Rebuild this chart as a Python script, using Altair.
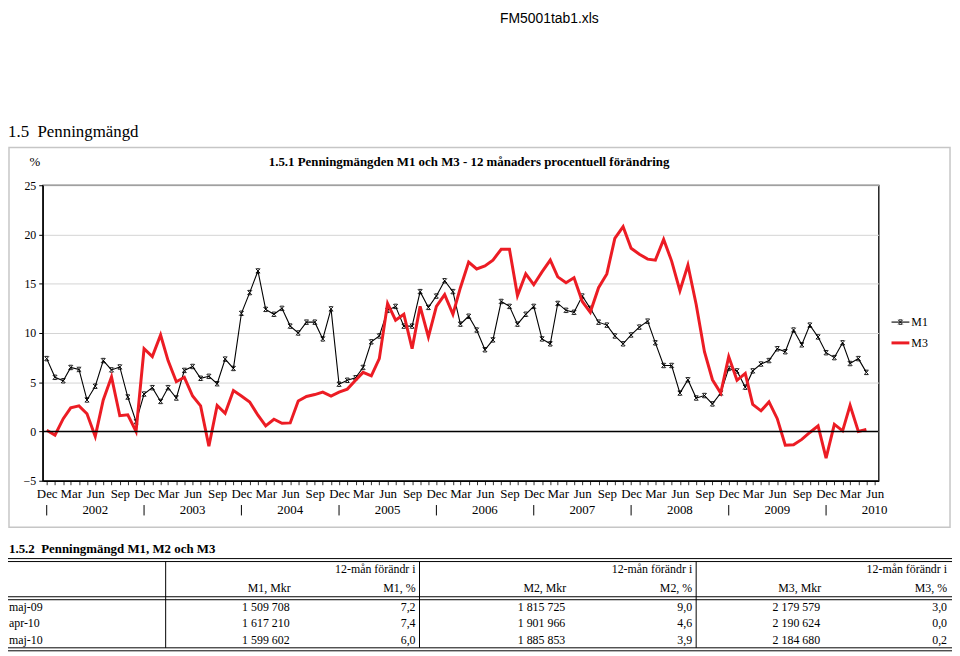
import altair as alt
import pandas as pd

# ---------------- data ----------------
m1 = [7.4, 5.5, 5.15, 6.5, 6.3, 3.2, 4.6, 7.2, 6.25, 6.55, 3.5, 1.0, 3.8, 4.45, 3.05, 4.45, 3.4,
      6.2, 6.6, 5.4, 5.6, 4.85, 7.35, 6.4, 12.0, 14.1, 16.3, 12.4, 11.9, 12.5, 10.7, 10.0, 11.1,
      11.1, 9.4,
      12.45, 4.8, 5.2, 5.45, 6.5, 9.1, 9.7, 12.3, 12.7, 10.7, 10.7, 14.2, 12.6, 13.75, 15.3, 14.2,
      10.9, 11.7, 10.3, 8.3, 9.3, 13.2, 12.7, 10.9, 11.9, 12.7, 9.4, 8.9, 13.0, 12.3, 12.1, 13.75,
      12.5,
      11.1, 10.8, 9.7, 8.9, 9.8, 10.6, 11.2, 9.0, 6.7, 6.7, 3.9, 5.25, 3.4, 3.65, 2.8, 3.9, 6.4,
      6.15, 4.5, 6.15, 6.85, 7.2, 8.4, 8.1, 10.3, 8.8, 10.8, 9.6, 8.0, 7.5, 9.0, 6.9, 7.4, 6.0]
m3 = [0.13, -0.37, 1.3, 2.4, 2.6, 1.8, -0.5, 3.2, 5.55, 1.6, 1.7, 0.0, 8.4, 7.6, 9.8, 7.2, 5.05,
      5.5, 3.6, 2.6, -1.5, 2.65, 1.85, 4.15, 3.6, 3.0, 1.65, 0.57, 1.24, 0.84, 0.87, 3.1, 3.55,
      3.75, 4.0,
      3.6, 4.0, 4.3, 5.2, 6.0, 5.65, 7.4, 13.0, 11.3, 11.9, 8.4, 12.7, 9.6, 12.7, 13.9, 11.9, 14.6,
      17.2, 16.5, 16.8, 17.4, 18.5, 18.5, 13.8, 16.0, 14.9, 16.2, 17.4, 15.7, 15.1, 15.6, 13.2,
      12.1,
      14.6, 16.0, 19.6, 20.8, 18.6, 18.0, 17.5, 17.4, 19.5, 17.3, 14.3, 16.9, 12.9, 8.1, 5.25, 3.9,
      7.6, 5.2, 5.9, 2.75, 2.1, 3.0, 1.3, -1.4, -1.35, -0.8, -0.1, 0.57, -2.7, 0.73, 0.07, 2.65,
      0.0, 0.2]
first_month = "2001-12-01"
last_tick_month = "2010-06-01"
year_labels = ["2002", "2003", "2004", "2005", "2006", "2007", "2008", "2009", "2010"]
series_names = ["M1", "M3"]
y_ticks = [-5, 0, 5, 10, 15, 20, 25]

file_name = "FM5001tab1.xls"
section_title = "1.5\u00a0\u00a0Penningmängd"
chart_title = "1.5.1 Penningmängden M1 och M3 - 12 månaders procentuell förändring"
unit_label = "%"

table_title = "1.5.2\u00a0\u00a0Penningmängd M1, M2 och M3"
row_labels = ["maj-09", "apr-10", "maj-10"]
header_top = "12-mån förändr i"
header_cols = ["M1, Mkr", "M1, %", "M2, Mkr", "M2, %", "M3, Mkr", "M3, %"]
m1_mkr = ["1 509 708", "1 617 210", "1 599 602"]
m1_pct = ["7,2", "7,4", "6,0"]
m2_mkr = ["1 815 725", "1 901 966", "1 885 853"]
m2_pct = ["9,0", "4,6", "3,9"]
m3_mkr = ["2 179 579", "2 190 624", "2 184 680"]
m3_pct = ["3,0", "0,0", "0,2"]

# ---------------- layout ----------------
SERIF = "Liberation Serif"
SANS = "Liberation Sans"
RED = "#ec1c24"
OX, OY = 43, 184          # plot-area origin on the page
W, H = 843, 298
TOTAL_W, TOTAL_H = 952, 648
PAD = {"left": OX - 8, "top": OY - 8,
       "right": TOTAL_W - (OX - 8) - W, "bottom": TOTAL_H - (OY - 8) - H}


def PX(x):
    return x - OX


def PY(y):
    return y - OY


def ms(s):
    return int(pd.Timestamp(s, tz="UTC").value // 10**6)


ONE = pd.DataFrame({"k": [0]})


def text(s, x, y, size=13, align="left", baseline="middle", font=SERIF, weight="normal"):
    return alt.Chart(ONE).mark_text(
        text=s, align=align, baseline=baseline, font=font, fontSize=size,
        fontWeight=weight, color="black"
    ).encode(x=alt.value(PX(x)), y=alt.value(PY(y)))


def hline(x1, x2, y, color="black", w=1.0):
    return alt.Chart(ONE).mark_rule(color=color, strokeWidth=w).encode(
        x=alt.value(PX(x1)), x2=alt.value(PX(x2)), y=alt.value(PY(y)))


def vline(x, y1, y2, color="black", w=1.0):
    return alt.Chart(ONE).mark_rule(color=color, strokeWidth=w).encode(
        x=alt.value(PX(x)), y=alt.value(PY(y1)), y2=alt.value(PY(y2)))


STAR = "M-1,-1L1,1M-1,1L1,-1M-0.8,-1L0.8,-1M-0.8,1L0.8,1"

# ---------------- scales / axes ----------------
dates = pd.date_range(first_month, periods=len(m1), freq="MS").strftime("%Y-%m-%d").tolist()
start = pd.Timestamp(first_month) - pd.Timedelta(days=15)
end = pd.Timestamp(last_tick_month) + pd.Timedelta(days=15)
xscale = alt.Scale(type="utc", domain=[ms(start), ms(end)])
tick_values = [ms(d) for d in pd.date_range(first_month, last_tick_month, freq="MS")]
xaxis = alt.Axis(
    values=tick_values,
    labelExpr="utcmonth(datum.value) % 3 == 2 ? utcFormat(datum.value, '%b') : ''",
    labelOverlap=False, labelFlush=False, grid=False,
    tickSize=4, tickColor="black", tickWidth=0.8,
    domainColor="black", domainWidth=1.3,
    labelFont=SERIF, labelFontSize=13, labelColor="black", labelPadding=3,
)
yscale = alt.Scale(domain=[-5, 25], nice=False, zero=False)
yaxis = alt.Axis(
    values=y_ticks, grid=True, gridColor="#d3d3d3", gridWidth=1,
    tickSize=4, tickColor="black", domainColor="black", domainWidth=1.3,
    labelFont=SERIF, labelFontSize=12, labelColor="black", labelPadding=3,
)

X = alt.X("date:T", scale=xscale, axis=xaxis, title=None)

df = pd.DataFrame({"date": dates, series_names[0]: m1, series_names[1]: m3})
base = alt.Chart(df).encode(x=X)

m1_line = base.mark_line(color="black", strokeWidth=1.1).encode(
    y=alt.Y("M1:Q", scale=yscale, axis=yaxis, title=None))
m1_pts = base.mark_point(shape=STAR, filled=False, size=20, color="black",
                         strokeWidth=0.9, opacity=1).encode(
    y=alt.Y("M1:Q", scale=yscale, axis=yaxis, title=None))
m3_line = base.mark_line(color=RED, strokeWidth=3).encode(
    y=alt.Y("M3:Q", scale=yscale, axis=yaxis, title=None))

zero_rule = alt.Chart(ONE).mark_rule(color="black", strokeWidth=1.5).encode(
    y=alt.YDatum(0, scale=yscale, axis=yaxis, title=None))

years_df = pd.DataFrame({
    "date": [f"{y}-06-01" for y in year_labels],
    "label": year_labels,
})
sep_df = pd.DataFrame({
    "date": [f"{int(y) - 1}-12-01" for y in year_labels],
})
year_text = alt.Chart(years_df).mark_text(
    font=SERIF, fontSize=13, baseline="middle", align="center", color="black"
).encode(x=X, y=alt.value(PY(511.5)), text="label:N")
sep_marks = alt.Chart(sep_df).mark_rule(color="black", strokeWidth=1).encode(
    x=X, y=alt.value(PY(506.5)), y2=alt.value(PY(517)))

frame = alt.Chart(ONE).mark_rect(fillOpacity=0, stroke="#c6c6c6", strokeWidth=1.5).encode(
    x=alt.value(PX(9)), x2=alt.value(PX(958)), y=alt.value(PY(146)), y2=alt.value(PY(529)))

layers = [frame, m1_line, m1_pts, m3_line, zero_rule, year_text, sep_marks]

# headings
layers += [
    text(file_name, 554, 16, size=14, align="center", font=SANS),
    text(section_title, 8, 130, size=17),
    text(unit_label, 35, 161, size=13, align="center"),
    text(chart_title, 473, 161, size=13, align="center", weight="bold"),
]

# legend
layers += [
    hline(899, 917, 322, "black", 1.1),
    alt.Chart(ONE).mark_point(shape=STAR, filled=False, size=20, color="black",
                              strokeWidth=0.9, opacity=1).encode(
        x=alt.value(PX(908)), y=alt.value(PY(322))),
    text(series_names[0], 919, 322, size=12),
    hline(899, 917, 343, RED, 3),
    text(series_names[1], 919, 343, size=12),
]

# table
TF = 12
layers.append(text(table_title, 9, 551, size=13, weight="bold"))
for y in (560.5, 563.5, 599, 602, 650.5, 653.5):
    layers.append(hline(8, 960, y, "black", 1))
for x in (167, 423, 702):
    layers.append(vline(x, 563.5, 650.5, "black", 1))

header_right = [293, 419, 571, 698, 828, 955]
value_right = [292, 419, 570, 698, 827, 955]
for xr in (419, 698, 955):
    layers.append(text(header_top, xr, 571, size=TF, align="right"))
for name, xr in zip(header_cols, header_right):
    layers.append(text(name, xr, 590.5, size=TF, align="right"))

row_y = [609, 626, 642.5]
columns = [m1_mkr, m1_pct, m2_mkr, m2_pct, m3_mkr, m3_pct]
for r, yy in enumerate(row_y):
    layers.append(text(row_labels[r], 9, yy, size=TF))
    for col, xr in zip(columns, value_right):
        layers.append(text(col[r], xr, yy, size=TF, align="right"))

chart = alt.layer(*layers).properties(
    width=W, height=H, padding=PAD,
    autosize=alt.AutoSizeParams(type="none"),
    background="white",
).configure_view(stroke="black", strokeWidth=1.3)

chart.save("out.html", embed_options={"renderer": "svg", "actions": False})
